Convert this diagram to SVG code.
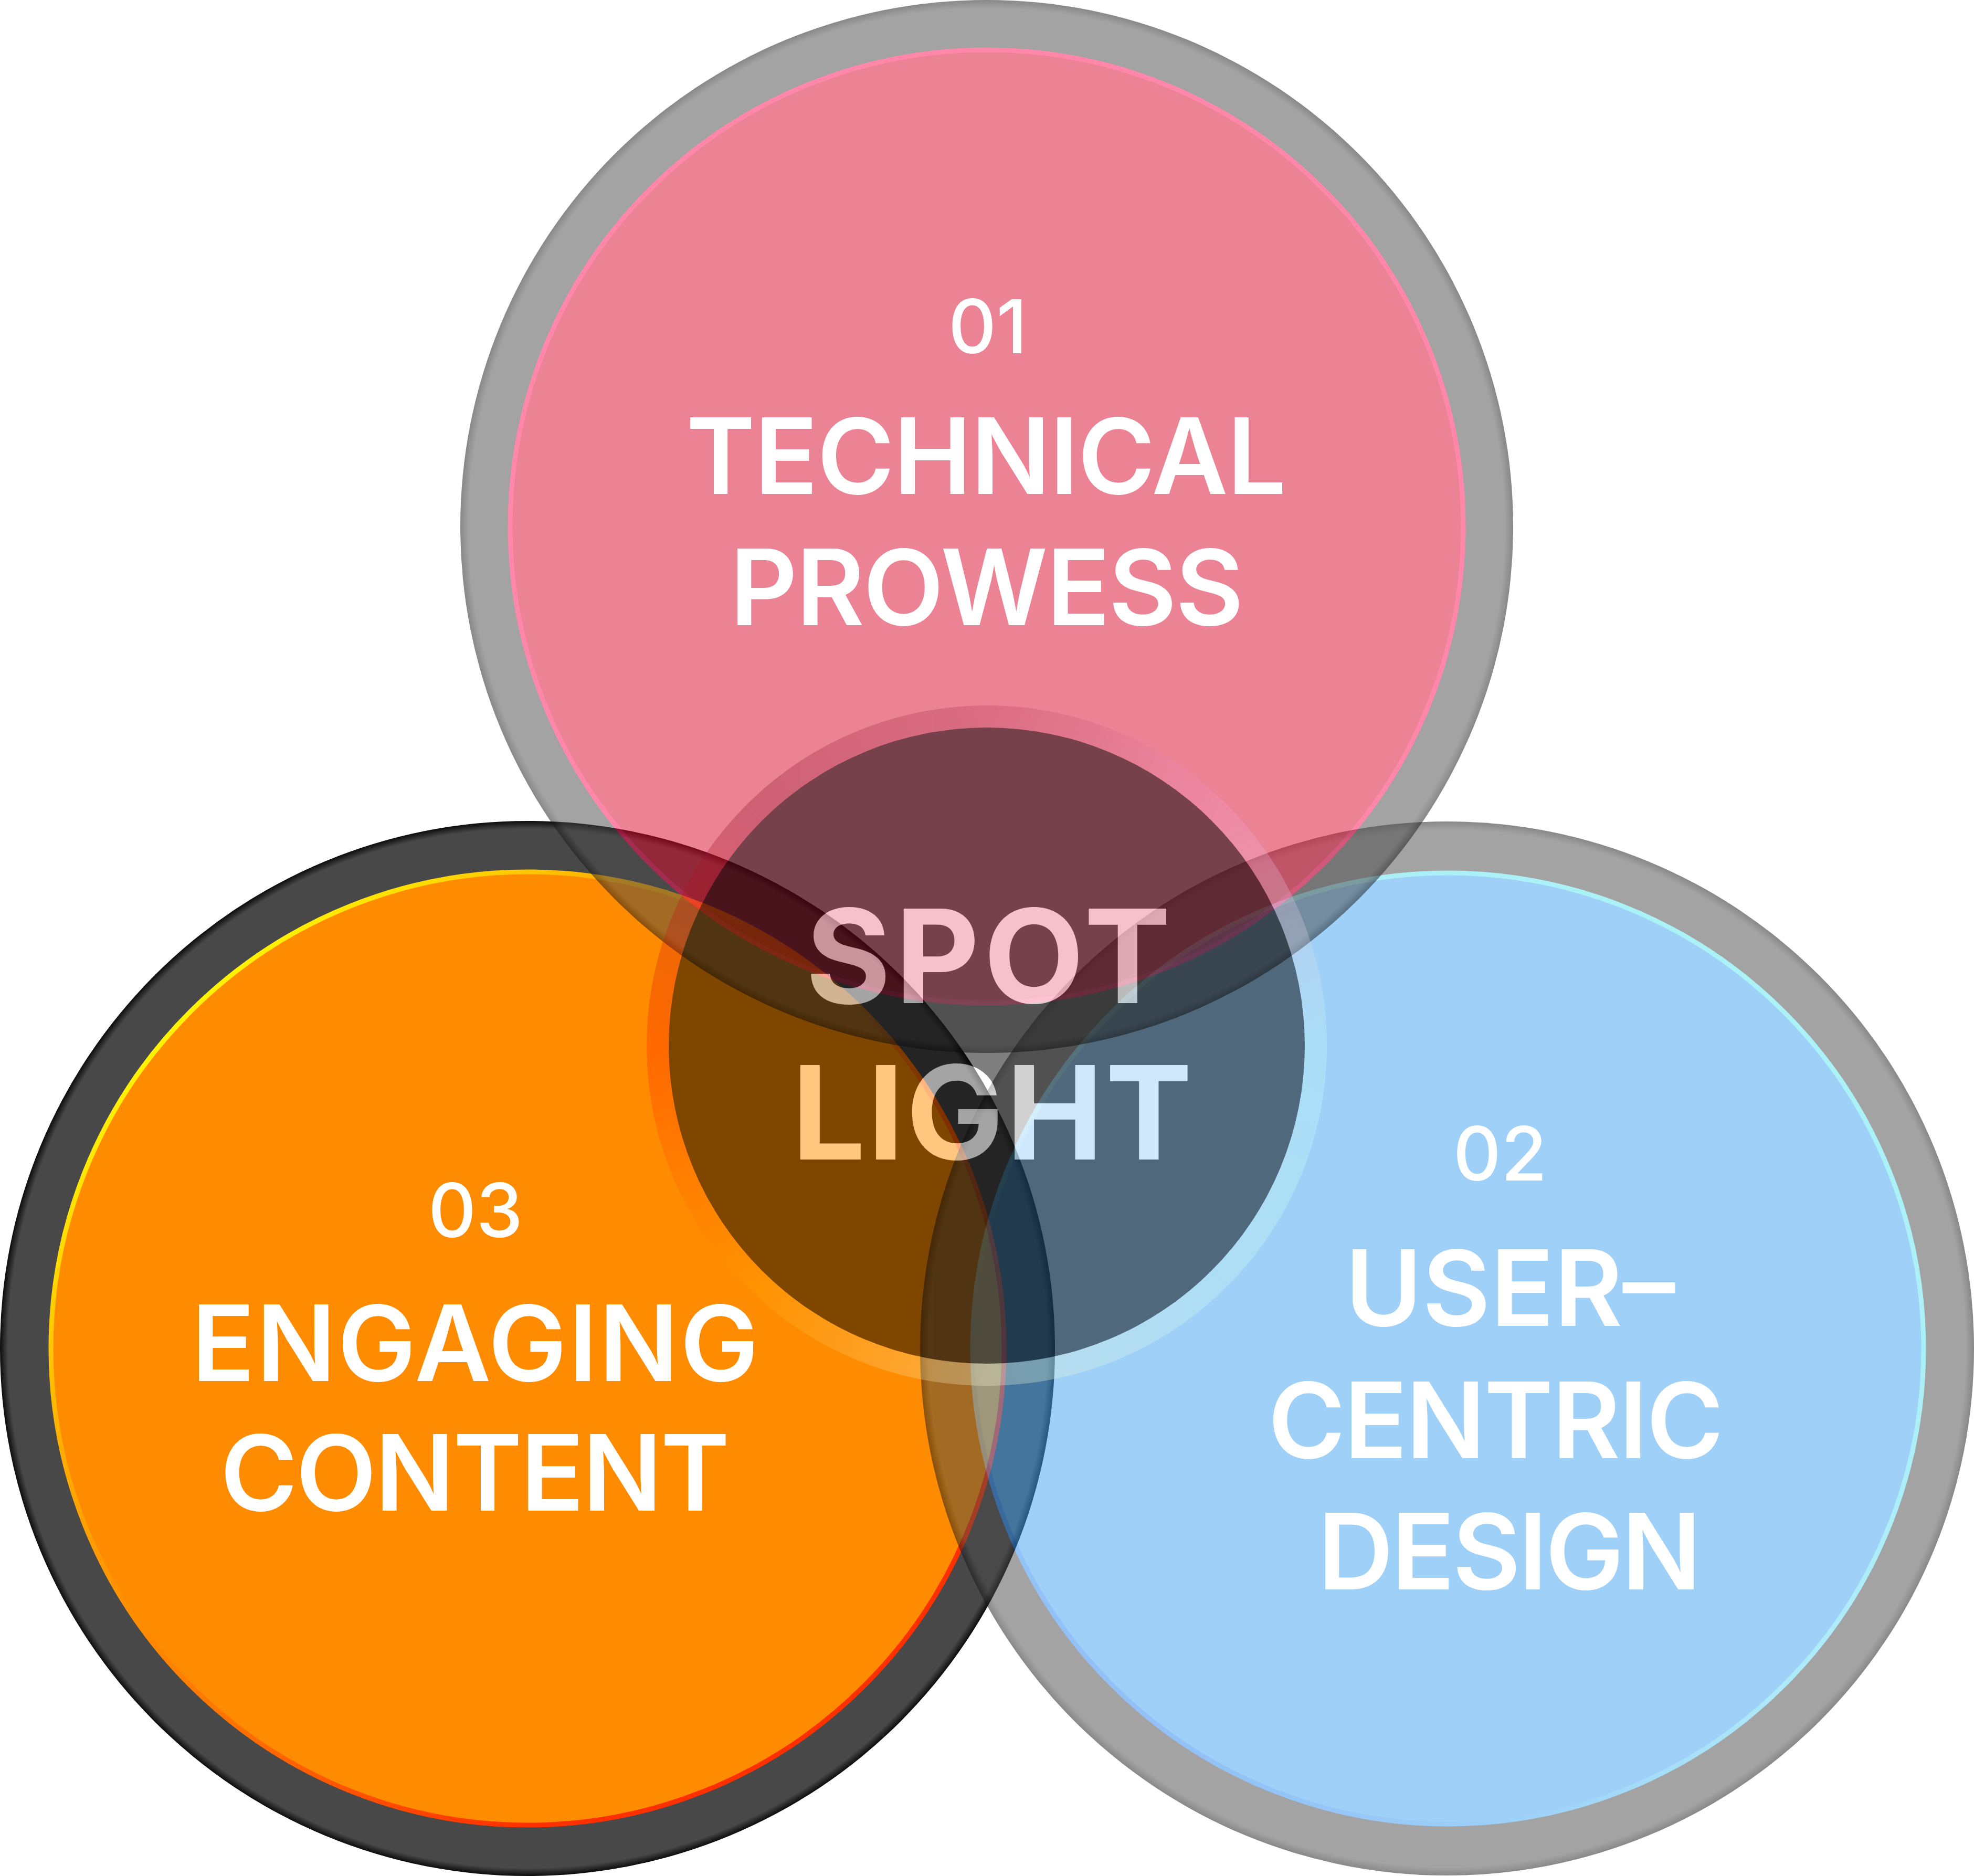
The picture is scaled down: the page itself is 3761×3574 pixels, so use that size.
<svg xmlns="http://www.w3.org/2000/svg" width="3761" height="3574" viewBox="0 0 3761 3574">
<style>
.lbl{font-family:Inter,"Liberation Sans",Arial,sans-serif;font-weight:600;fill:#ffffff;text-anchor:middle}
.num{font-size:142px;font-weight:500}
.big{font-size:200px}
.spot{font-family:Inter,"Liberation Sans",sans-serif;font-weight:700;font-size:248px;text-anchor:middle}
.seg{fill:none;stroke-width:42}
</style>
<defs>
<radialGradient id="ringTop" cx="0.5" cy="0.5" r="0.5">
<stop offset="0" stop-color="#4a4a4a"/><stop offset="0.984" stop-color="#4a4a4a"/><stop offset="1" stop-color="#141414"/>
</radialGradient>
<radialGradient id="ringBL" cx="0.5" cy="0.5" r="0.5">
<stop offset="0" stop-color="#484848"/><stop offset="0.985" stop-color="#484848"/><stop offset="1" stop-color="#0c0c0c"/>
</radialGradient>
<linearGradient id="strokeBL" x1="0" y1="0" x2="1" y2="1">
<stop offset="0.12" stop-color="#ffff00"/><stop offset="0.3" stop-color="#ffb000"/><stop offset="0.55" stop-color="#ff7000"/><stop offset="0.75" stop-color="#ff3000"/>
</linearGradient>
<linearGradient id="strokeBR" x1="1" y1="0" x2="0" y2="1">
<stop offset="0" stop-color="#55eeee"/><stop offset="0.5" stop-color="#60d8f4"/><stop offset="1" stop-color="#1060f0"/>
</linearGradient>
<linearGradient id="g0" gradientUnits="userSpaceOnUse" x1="2507" y1="1992" x2="2323.4" y2="2435.4"><stop offset="0" stop-color="#c5fff8"/><stop offset="1" stop-color="#d0fff4"/></linearGradient>
<linearGradient id="g1" gradientUnits="userSpaceOnUse" x1="2323.4" y1="2435.4" x2="1880" y2="2619"><stop offset="0" stop-color="#d0fff4"/><stop offset="1" stop-color="#f4f8d8"/></linearGradient>
<linearGradient id="g2" gradientUnits="userSpaceOnUse" x1="1880" y1="2619" x2="1436.6" y2="2435.4"><stop offset="0" stop-color="#f4f8d8"/><stop offset="1" stop-color="#ffa000"/></linearGradient>
<linearGradient id="g3" gradientUnits="userSpaceOnUse" x1="1436.6" y1="2435.4" x2="1253" y2="1992"><stop offset="0" stop-color="#ffa000"/><stop offset="1" stop-color="#ff1a00"/></linearGradient>
<linearGradient id="g4" gradientUnits="userSpaceOnUse" x1="1253" y1="1992" x2="1436.6" y2="1548.6"><stop offset="0" stop-color="#ff1a00"/><stop offset="1" stop-color="#8a1030"/></linearGradient>
<linearGradient id="g5" gradientUnits="userSpaceOnUse" x1="1436.6" y1="1548.6" x2="1880" y2="1365"><stop offset="0" stop-color="#8a1030"/><stop offset="1" stop-color="#b43c5d"/></linearGradient>
<linearGradient id="g6" gradientUnits="userSpaceOnUse" x1="1880" y1="1365" x2="2323.4" y2="1548.6"><stop offset="0" stop-color="#b43c5d"/><stop offset="1" stop-color="#f79bca"/></linearGradient>
<linearGradient id="g7" gradientUnits="userSpaceOnUse" x1="2323.4" y1="1548.6" x2="2507" y2="1992"><stop offset="0" stop-color="#f79bca"/><stop offset="1" stop-color="#c5fff8"/></linearGradient>
<mask id="textHole" maskUnits="userSpaceOnUse" x="0" y="0" width="3761" height="3574">
<rect x="0" y="0" width="3761" height="3574" fill="#ffffff"/>
<text class="spot" x="1883" y="1911" textLength="696" fill="#000000">SPOT</text>
<text class="spot" x="1890" y="2209" textLength="763" fill="#000000">LIGHT</text>
</mask>
</defs>

<g id="node-engaging-content">
<circle cx="1005" cy="2569" r="1005" fill="url(#ringBL)"/>
<circle cx="1005" cy="2569" r="908" fill="#ff8c00" stroke="url(#strokeBL)" stroke-width="9"/>
<text class="lbl num" x="906" y="2357">03</text>
<text class="lbl big" x="905" y="2631" textLength="1081">ENGAGING</text>
<text class="lbl big" x="905" y="2878" textLength="971">CONTENT</text>
</g>

<g id="node-user-centric-design">
<g opacity="0.5">
<circle cx="2757" cy="2569" r="1004" fill="url(#ringTop)"/>
<circle cx="2759" cy="2569" r="906" fill="#41a3f1" stroke="url(#strokeBR)" stroke-width="9"/>
</g>
<text class="lbl num" x="2858" y="2249">02</text>
<text class="lbl big" x="2877" y="2526">USER–</text>
<text class="lbl big" x="2850" y="2778" textLength="868">CENTRIC</text>
<text class="lbl big" x="2876" y="3028" textLength="731">DESIGN</text>
</g>

<g id="node-technical-prowess">
<g opacity="0.5">
<circle cx="1880" cy="1003" r="1003" fill="url(#ringTop)"/>
<circle cx="1880" cy="1003" r="908" fill="#db092b" stroke="#ff1155" stroke-width="9"/>
</g>
<text class="lbl num" x="1882" y="673">01</text>
<text class="lbl big" x="1879" y="941" textLength="1144">TECHNICAL</text>
<text class="lbl big" x="1880" y="1191" textLength="979">PROWESS</text>
</g>

<g id="node-spotlight">
<circle cx="1880" cy="1992" r="606" fill="#000000" fill-opacity="0.5" mask="url(#textHole)"/>
<g opacity="0.3">
<path class="seg" stroke="url(#g0)" d="M2507 1992 A627 627 0 0 1 2323.4 2435.4"/>
<path class="seg" stroke="url(#g1)" d="M2323.4 2435.4 A627 627 0 0 1 1880 2619"/>
<path class="seg" stroke="url(#g2)" d="M1880 2619 A627 627 0 0 1 1436.6 2435.4"/>
<path class="seg" stroke="url(#g3)" d="M1436.6 2435.4 A627 627 0 0 1 1253 1992"/>
<path class="seg" stroke="url(#g4)" d="M1253 1992 A627 627 0 0 1 1436.6 1548.6"/>
<path class="seg" stroke="url(#g5)" d="M1436.6 1548.6 A627 627 0 0 1 1880 1365"/>
<path class="seg" stroke="url(#g6)" d="M1880 1365 A627 627 0 0 1 2323.4 1548.6"/>
<path class="seg" stroke="url(#g7)" d="M2323.4 1548.6 A627 627 0 0 1 2507 1992"/>
</g>
<text class="spot" x="1883" y="1911" textLength="696" fill="#ffffff" fill-opacity="0.5">SPOT</text>
<text class="spot" x="1890" y="2209" textLength="763" fill="#ffffff" fill-opacity="0.5">LIGHT</text>
</g>

<g id="connectors"/>
</svg>
